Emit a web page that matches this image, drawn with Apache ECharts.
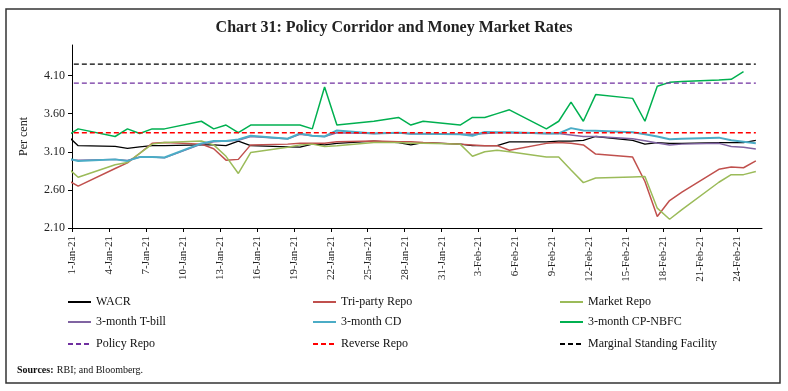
<!DOCTYPE html>
<html>
<head>
<meta charset="utf-8">
<script src="https://cdn.jsdelivr.net/npm/echarts@6/dist/echarts.min.js"></script>
<style>html,body{margin:0;padding:0;background:#fff}#c{width:788px;height:391px}</style>
</head>
<body>
<div id="c"></div>
<script>
// ---- data ----
const dates = ['31-Dec-20','1-Jan-21','4-Jan-21','5-Jan-21','6-Jan-21','7-Jan-21','8-Jan-21',
 '11-Jan-21','12-Jan-21','13-Jan-21','14-Jan-21','15-Jan-21',
 '18-Jan-21','19-Jan-21','20-Jan-21','21-Jan-21','22-Jan-21',
 '25-Jan-21','27-Jan-21','28-Jan-21','29-Jan-21',
 '1-Feb-21','2-Feb-21','3-Feb-21','4-Feb-21','5-Feb-21',
 '8-Feb-21','9-Feb-21','10-Feb-21','11-Feb-21','12-Feb-21',
 '15-Feb-21','16-Feb-21','17-Feb-21','18-Feb-21','19-Feb-21',
 '22-Feb-21','23-Feb-21','24-Feb-21','25-Feb-21'];
const wacr = [3.33,3.18,3.17,3.145,3.165,3.18,3.18, 3.19,3.19,3.18,3.24,3.18, 3.165,3.16,3.20,3.19,3.21, 3.24,3.22,3.19,3.22, 3.20,3.18,3.18,3.18,3.23, 3.23,3.24,3.24,3.25,3.30, 3.25,3.20,3.22,3.21,3.21, 3.22,3.22,3.22,3.25];
const triParty = [2.74,2.65,2.88,2.955,3.08,3.21,3.22, 3.20,3.14,2.99,3.00,3.19, 3.20,3.21,3.21,3.21,3.23, 3.24,3.23,3.23,3.22, 3.20,3.19,3.18,3.18,3.12, 3.21,3.22,3.21,3.19,3.07, 3.03,2.71,2.25,2.46,2.57, 2.87,2.90,2.89,2.98];
const marketRepo = [2.91,2.765,2.93,2.96,3.08,3.20,3.22, 3.24,3.19,3.04,2.815,3.09, 3.16,3.19,3.20,3.17,3.18, 3.22,3.22,3.21,3.21, 3.20,3.04,3.10,3.12,3.10, 3.03,3.03,2.86,2.695,2.755, 2.77,2.775,2.36,2.215,2.34, 2.70,2.80,2.80,2.84];
const tBill = [3.00,2.99,3.00,2.985,3.03,3.03,3.02, 3.20,3.23,3.24,3.25,3.30, 3.27,3.33,3.31,3.30,3.35, 3.34,3.35,3.335,3.335, 3.33,3.33,3.34,3.35,3.35, 3.34,3.34,3.32,3.30,3.30, 3.27,3.245,3.215,3.19,3.20, 3.21,3.17,3.16,3.135];
const cd = [3.016,2.98,3.00,2.98,3.03,3.03,3.025, 3.21,3.24,3.24,3.26,3.31, 3.27,3.34,3.31,3.30,3.38, 3.34,3.35,3.335,3.335, 3.33,3.31,3.36,3.355,3.355, 3.34,3.34,3.41,3.38,3.375, 3.355,3.33,3.30,3.265,3.27, 3.285,3.25,3.23,3.21];
const cpNbfc = [3.30,3.40,3.30,3.40,3.34,3.40,3.40, 3.50,3.40,3.45,3.35,3.45, 3.45,3.45,3.40,3.95,3.45, 3.50,3.55,3.45,3.50, 3.45,3.55,3.55,3.60,3.65, 3.40,3.50,3.75,3.50,3.85, 3.80,3.50,3.96,4.01,4.02, 4.04,4.05,4.15,null];
const policyRepo = 4.00;
const reverseRepo = 3.35;
const msf = 4.25;
const tickLabels = ['1-Jan-21','4-Jan-21','7-Jan-21','10-Jan-21','13-Jan-21','16-Jan-21','19-Jan-21','22-Jan-21','25-Jan-21','28-Jan-21','31-Jan-21','3-Feb-21','6-Feb-21','9-Feb-21','12-Feb-21','15-Feb-21','18-Feb-21','21-Feb-21','24-Feb-21'];
const axisEndLabel = '26-Feb-21';
const yTicks = [2.10, 2.60, 3.10, 3.60, 4.10];

// ---- helpers ----
const MON = {Jan:0,Feb:1,Mar:2,Apr:3,May:4,Jun:5,Jul:6,Aug:7,Sep:8,Oct:9,Nov:10,Dec:11};
const BASE = Date.UTC(2021,0,1);
function dayNum(s){ const p=s.split('-'); return (Date.UTC(2000+ +p[2], MON[p[1]], +p[0]) - BASE)/86400000; }
const xs = dates.map(d => dayNum(d) + 0.5);   // daily slot centres (date axis, between tick marks)
const pair = arr => arr.map((v,i)=>[xs[i], v]);
const tickPos = tickLabels.map(dayNum);
const labelMap = {}; tickLabels.forEach(t => labelMap[dayNum(t)] = t);

const SERIF = '"Liberation Serif","DejaVu Serif",serif';
function line(name, data, color, width, dashed){
  return {name, type:'line', data: pair(data), symbol:'none', connectNulls:true, clip:true,
    lineStyle:{color, width, type: dashed ? [5,3] : 'solid'}, itemStyle:{color}, emphasis:{disabled:true}};
}
const rows = [296, 316, 338];
const cols = [67, 312, 559];
function leg(name, c, r){
  return {data:[name], left: cols[c], top: rows[r], itemWidth:23, itemHeight:10, padding:0,
    itemStyle:{opacity:0, borderWidth:0},
    textStyle:{fontFamily:SERIF, fontSize:12, color:'#111'}, selectedMode:false};
}

const chart = echarts.init(document.getElementById('c'), null, {renderer:'canvas'});
chart.setOption({
  animation:false,
  backgroundColor:'#fff',
  title:{text:'Chart 31: Policy Corridor and Money Market Rates', left:'center', top:15,
    textStyle:{fontFamily:SERIF, fontSize:16, fontWeight:'bold', color:'#222'}},
  grid:{left:72, right:26, top:45, bottom:163, containLabel:false},
  xAxis:{type:'value', min:0, max:dayNum(axisEndLabel), 
    axisLine:{show:true, onZero:false, lineStyle:{color:'#000', width:1}},
    axisTick:{show:true, customValues: tickPos, length:4, lineStyle:{color:'#000'}},
    axisLabel:{customValues: tickPos, rotate:90, margin:8, fontFamily:SERIF, fontSize:11, color:'#222',
      formatter: v => labelMap[v] || ''},
    splitLine:{show:false}},
  yAxis:{type:'value', min:yTicks[0], max:4.50, interval:0.5,
    name:'Per cent', nameLocation:'middle', nameGap:42, nameRotate:90,
    nameTextStyle:{fontFamily:SERIF, fontSize:12, color:'#222'},
    axisLine:{show:true, lineStyle:{color:'#000', width:1}},
    axisTick:{show:true, customValues: yTicks, length:4, lineStyle:{color:'#000'}},
    axisLabel:{customValues: yTicks, margin:7, fontFamily:SERIF, fontSize:12, color:'#222', formatter: v => v.toFixed(2)},
    splitLine:{show:false}},
  legend:[
    leg('WACR',0,0), leg('Tri-party Repo',1,0), leg('Market Repo',2,0),
    leg('3-month T-bill',0,1), leg('3-month CD',1,1), leg('3-month CP-NBFC',2,1),
    leg('Policy Repo',0,2), leg('Reverse Repo',1,2), leg('Marginal Standing Facility',2,2)
  ],
  series:[
    line('WACR', wacr, '#000000', 1.3),
    line('Tri-party Repo', triParty, '#C0504D', 1.5),
    line('Market Repo', marketRepo, '#9BBB59', 1.5),
    line('3-month T-bill', tBill, '#8064A2', 1.5),
    line('3-month CD', cd, '#4BACC6', 2),
    line('3-month CP-NBFC', cpNbfc, '#00B050', 1.5),
    line('Policy Repo', dates.map(()=>policyRepo), '#7030A0', 1.3, true),
    line('Reverse Repo', dates.map(()=>reverseRepo), '#FF0000', 1.5, true),
    line('Marginal Standing Facility', dates.map(()=>msf), '#000000', 1.3, true)
  ],
  graphic:[
    {type:'rect', shape:{x:6, y:9, width:774, height:374}, style:{fill:'none', stroke:'#333', lineWidth:1.5}, silent:true},
    {type:'text', left:17, top:364, style:{rich:{b:{fontFamily:SERIF, fontSize:10, fontWeight:'bold', fill:'#111'}, n:{fontFamily:SERIF, fontSize:10, fill:'#111'}},
      text:'{b|Sources:} {n|RBI; and Bloomberg.}'}}
  ]
});
</script>
</body>
</html>
